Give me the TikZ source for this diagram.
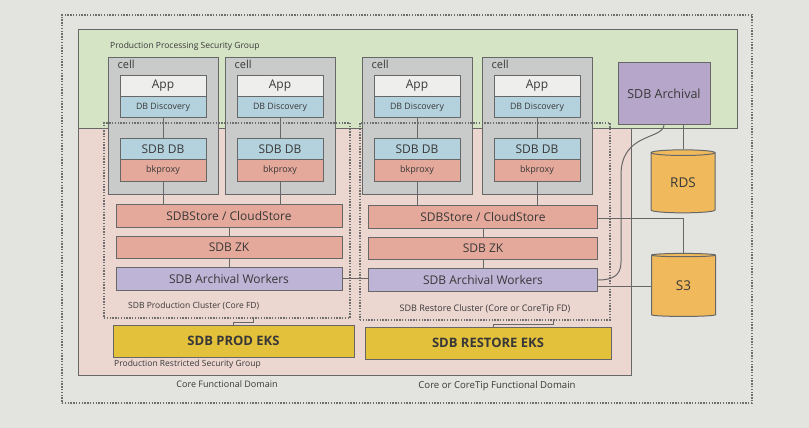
\documentclass[tikz,border=0pt]{standalone}
\usepackage{fontspec}
\setmainfont{Open Sans}
\usetikzlibrary{shapes.geometric}
\definecolor{bg}{HTML}{E3E3E0}
\definecolor{grn}{HTML}{D6E4C6}
\definecolor{pnk}{HTML}{ECD6D0}
\definecolor{cellgray}{HTML}{C9CBCB}
\definecolor{appw}{HTML}{EEEEEC}
\definecolor{blue1}{HTML}{B4D2DE}
\definecolor{salmon}{HTML}{E5A99B}
\definecolor{lav}{HTML}{BDB4D6}
\definecolor{purp}{HTML}{B6A6CA}
\definecolor{gold}{HTML}{E3C13A}
\definecolor{orng}{HTML}{F0BA5C}
\definecolor{edge}{HTML}{676767}
\definecolor{dotc}{HTML}{6E6E6E}
\definecolor{txt}{HTML}{383838}
\begin{document}
\begin{tikzpicture}[x=1pt,y=-1pt,
  every node/.style={text=txt},
  grpbox/.style={draw=edge, line width=1pt, inner sep=0pt},
  cellbox/.style={draw=edge, fill=cellgray, line width=1pt, minimum width=110pt, minimum height=136pt, inner sep=0pt},
  inbox/.style={draw=edge, line width=0.9pt, minimum width=86pt, minimum height=21pt, inner sep=0pt},
  appbox/.style={inbox, fill=appw, font=\fontsize{12}{12}\selectfont},
  discbox/.style={inbox, fill=blue1, font=\fontsize{8.8}{9}\selectfont},
  dbbox/.style={inbox, fill=blue1, font=\fontsize{12}{12}\selectfont},
  bkbox/.style={inbox, minimum height=22pt, fill=salmon, font=\fontsize{9}{9}\selectfont},
  rowbox/.style={draw=edge, line width=0.9pt, inner sep=0pt, minimum height=23pt, font=\fontsize{12}{12}\selectfont},
  ekbox/.style={draw=edge, fill=gold, line width=1pt, inner sep=0pt, minimum height=32pt, font=\bfseries\fontsize{13}{13}\selectfont},
  dotbox/.style={draw=dotc, line width=1.6pt, dash pattern=on 1.4pt off 1.4pt, inner sep=0pt},
  wire/.style={draw=edge, line width=1pt},
  small/.style={font=\fontsize{8.5}{9}\selectfont, inner sep=0pt},
  domlabel/.style={font=\fontsize{9}{9}\selectfont, inner sep=0pt},
  celllabel/.style={font=\fontsize{11}{11}\selectfont, inner sep=0pt, anchor=north west},
  dbcyl/.style={cylinder, shape border rotate=90, aspect=0.22, draw=edge, fill=orng, line width=1pt, minimum width=64pt, minimum height=63pt, inner sep=0pt, font=\fontsize{13.5}{14}\selectfont}
]
\useasboundingbox (0,0) rectangle (809,428);
\fill[bg] (0,0) rectangle (809,428);

% outer dotted frame
\node[dotbox, line width=1.2pt, minimum width=690pt, minimum height=388pt] (outer) at (407,209) {};

% security groups
\node[grpbox, fill=grn, minimum width=659pt, minimum height=98pt] (ppsg) at (407.5,79) {};
\node[grpbox, fill=pnk, minimum width=553pt, minimum height=247pt] (prsg) at (354.5,251.5) {};
\node[small, anchor=west] (ppsgl) at (110,46) {Production Processing Security Group};
\node[small, anchor=west] (prsgl) at (114,364) {Production Restricted Security Group};
\node[domlabel] (cfd) at (227,384) {Core Functional Domain};
\node[domlabel, font=\fontsize{9.6}{10}\selectfont] (ccfd) at (497,386) {Core or CoreTip Functional Domain};

% cells
\foreach \i/\cx in {1/163, 2/280, 3/417, 4/537} {
  \node[cellbox] (cell\i) at (\cx,126) {};
  \node[celllabel] (cl\i) at ([xshift=10pt,yshift=-2pt]cell\i.north west) {cell};
  \node[appbox] (app\i) at (\cx,86) {App};
  \node[discbox] (disc\i) at (\cx,107) {DB Discovery};
  \node[dbbox] (sdb\i) at (\cx,149) {SDB DB};
  \node[bkbox] (bk\i) at (\cx,170.5) {bkproxy};
  \draw[wire] (disc\i.south) -- (sdb\i.north);
}

% cluster rows
\node[rowbox, fill=salmon, minimum width=226pt] (ls) at (229,215.5) {SDBStore / CloudStore};
\node[rowbox, fill=salmon, minimum width=226pt, minimum height=22pt] (lz) at (229,247) {SDB ZK};
\node[rowbox, fill=lav, minimum width=226pt] (lw) at (229,278.5) {SDB Archival Workers};
\node[rowbox, fill=salmon, minimum width=229pt] (rs) at (483,216.5) {SDBStore / CloudStore};
\node[rowbox, fill=salmon, minimum width=229pt, minimum height=22pt] (rz) at (483,248.5) {SDB ZK};
\node[rowbox, fill=lav, minimum width=229pt] (rw) at (483,280) {SDB Archival Workers};

% cluster dotted boxes
\node[dotbox, minimum width=246pt, minimum height=195pt] (lclus) at (227,220.5) {};
\node[dotbox, minimum width=250pt, minimum height=197pt] (rclus) at (485,221.5) {};
\node[small, anchor=west] (lclusl) at (128,306) {SDB Production Cluster (Core FD)};
\node[small, font=\fontsize{9}{9}\selectfont] (rclusl) at (485,309) {SDB Restore Cluster (Core or CoreTip FD)};

% EKS
\node[ekbox, minimum width=241pt] (leks) at (233.5,341) {SDB PROD EKS};
\node[ekbox, minimum width=246pt] (reks) at (488,343) {SDB RESTORE EKS};

% archival + stores
\node[draw=edge, fill=purp, line width=1pt, minimum width=92pt, minimum height=61pt, inner sep=0pt, font=\fontsize{12.5}{13}\selectfont] (arch) at (664,93.5) {SDB Archival};
\node[dbcyl] (rds) at (683,183) {RDS};
\node[dbcyl] (s3) at (683.5,286) {S3};

% connectors in cells to store
\draw[wire] (bk1.south) -- (bk1.south |- ls.north);
\draw[wire] (bk2.south) -- (bk2.south |- ls.north);
\draw[wire] (bk3.south) -- (bk3.south |- rs.north);
\draw[wire] (bk4.south) -- (bk4.south |- rs.north);
\draw[wire] (ls.south) -- (lz.north);
\draw[wire] (lz.south) -- (lw.north);
\draw[wire] (rs.south) -- (rz.north);
\draw[wire] (rz.south) -- (rw.north);
\draw[wire] (lw.east) -- (lw.east -| rw.west);

% cluster to EKS jogs
\draw[wire] ([xshift=26pt]lclus.south) -- ++(0,3.5) -| (leks.north);
\draw[wire] ([xshift=68pt]rclus.south) -- ++(0,4) -| ([xshift=5pt]reks.north);

% right side connections
\draw[wire] (arch.south -| rds.north) -- (rds.north);
\draw[wire] ([yshift=-2pt]rs.east) -| (s3.north);
\draw[wire] ([yshift=-6pt]rw.east) -- ([yshift=-6pt]rw.east -| s3.west);
\draw[wire] (arch.south) .. controls (664,140) and (621,132) .. (621,175) -- (621,262) .. controls (621,276) and (612,280) .. (rw.east);
\end{tikzpicture}
\end{document}
